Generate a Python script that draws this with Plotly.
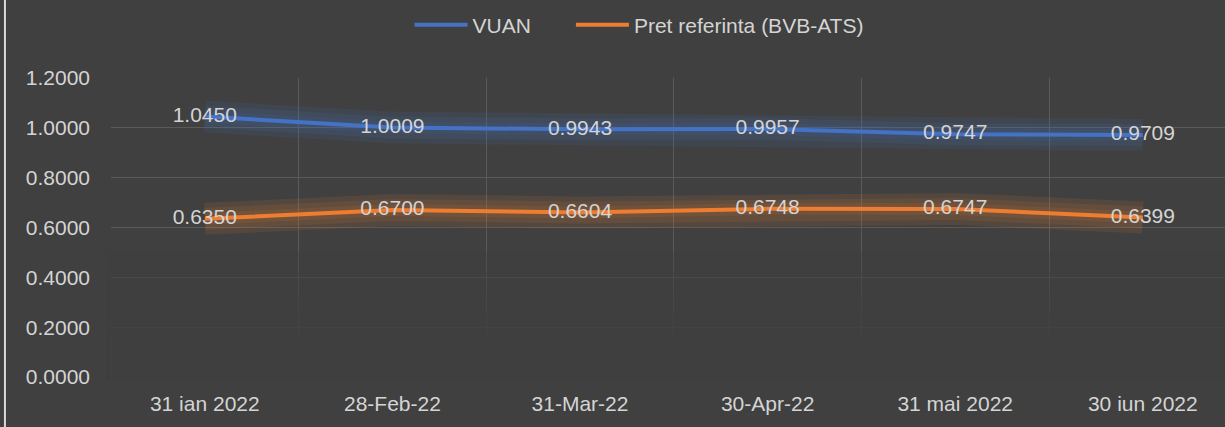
import plotly.graph_objects as go

categories = ["31 ian 2022", "28-Feb-22", "31-Mar-22", "30-Apr-22", "31 mai 2022", "30 iun 2022"]
vuan = [1.0450, 1.0009, 0.9943, 0.9957, 0.9747, 0.9709]
pret = [0.6350, 0.6700, 0.6604, 0.6748, 0.6747, 0.6399]
series_names = ["VUAN", "Pret referinta (BVB-ATS)"]
y_ticks = [0.0, 0.2, 0.4, 0.6, 0.8, 1.0, 1.2]

BG = "#404040"
GRID = "#5a5a5a"
TXT = "#d4d4d4"
FONT = "Liberation Sans"
BLUE = "#4472C4"
ORANGE = "#ED7D31"

fig = go.Figure()

# glow layers
for vals, glow in [(vuan, "rgba(68,114,196,0.11)"), (pret, "rgba(237,125,49,0.11)")]:
    for w in (32, 22, 12):
        fig.add_trace(go.Scatter(x=categories, y=vals, mode="lines",
                                 line=dict(color=glow, width=w),
                                 showlegend=False, hoverinfo="skip"))

legend_pad = ["\u00a0" * 6, ""]
for vals, name, col, pad in [(vuan, series_names[0], BLUE, legend_pad[0]),
                             (pret, series_names[1], ORANGE, legend_pad[1])]:
    fig.add_trace(go.Scatter(
        x=categories, y=vals, mode="lines+text", name=name + pad,
        line=dict(color=col, width=4),
        text=[f"{v:.4f}" for v in vals],
        textposition="middle center",
        textfont=dict(family=FONT, size=21, color=TXT),
    ))

shapes = []
# fade of grid toward the bottom
tops = [0.42, 0.35, 0.28, 0.21, 0.14, 0.07]
for t in tops:
    shapes.append(dict(type="rect", xref="paper", yref="paper", x0=-0.003, x1=1.01,
                       y0=-0.01, y1=t, fillcolor=BG, opacity=0.35,
                       line=dict(width=0), layer="above"))
# outer frame line at left
shapes.append(dict(type="line", xref="paper", yref="paper",
                   x0=-0.0952, x1=-0.0952, y0=-0.3, y1=1.4,
                   line=dict(color="#d9d9d9", width=2)))

fig.update_layout(
    width=1225, height=427,
    paper_bgcolor=BG, plot_bgcolor=BG,
    margin=dict(l=111, r=0, t=78, b=50),
    font=dict(family=FONT, size=21, color=TXT),
    showlegend=True,
    legend=dict(orientation="h", x=0.268, xanchor="left", y=1.177, yanchor="middle",
                font=dict(family=FONT, size=21, color=TXT), bgcolor="rgba(0,0,0,0)",
                itemwidth=53),
    xaxis=dict(type="category", range=[-0.5, 5.438], tickson="boundaries",
               showgrid=True, gridcolor=GRID, gridwidth=1, ticks="",
               showline=False, zeroline=False, ticklabelstandoff=12,
               tickfont=dict(family=FONT, size=21, color=TXT)),
    yaxis=dict(range=[0, 1.2], tickvals=y_ticks, tickformat=".4f",
               showgrid=True, gridcolor=GRID, gridwidth=1, ticks="",
               zeroline=False, showline=False, ticklabelstandoff=20,
               tickfont=dict(family=FONT, size=21, color=TXT)),
    shapes=shapes,
)

fig.write_html("out.html", config={"displayModeBar": False},
               post_script="document.body.style.margin='0';document.body.style.background='#404040';")
